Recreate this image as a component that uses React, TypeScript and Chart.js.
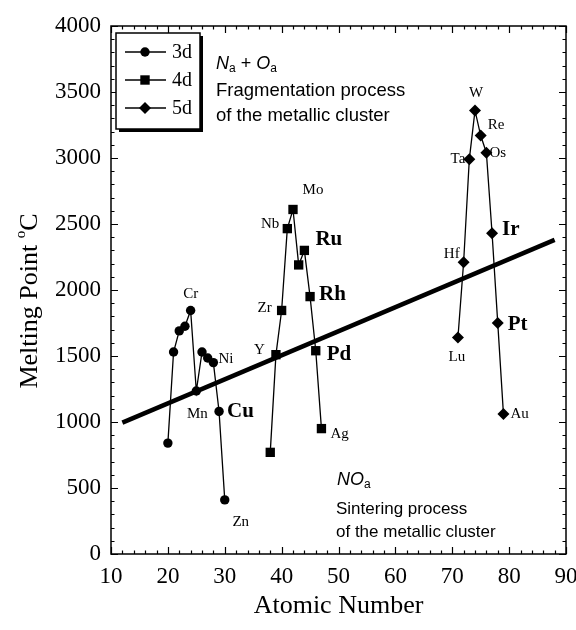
import { useEffect, useRef } from "react";
import { Chart, registerables } from "chart.js";

Chart.register(...registerables);

// ---- data ----
const z3d = [20, 21, 22, 23, 24, 25, 26, 27, 28, 29, 30];
const mp3d = [840, 1530, 1690, 1725, 1845, 1235, 1530, 1485, 1450, 1080, 410];
const el3d = ["Ca", "Sc", "Ti", "V", "Cr", "Mn", "Fe", "Co", "Ni", "Cu", "Zn"];

const z4d = [38, 39, 40, 41, 42, 43, 44, 45, 46, 47];
const mp4d = [770, 1510, 1845, 2465, 2610, 2190, 2300, 1950, 1540, 950];
const el4d = ["Sr", "Y", "Zr", "Nb", "Mo", "Tc", "Ru", "Rh", "Pd", "Ag"];

const z5d = [71, 72, 73, 74, 75, 76, 77, 78, 79];
const mp5d = [1640, 2210, 2990, 3360, 3170, 3040, 2430, 1750, 1060];
const el5d = ["Lu", "Hf", "Ta", "W", "Re", "Os", "Ir", "Pt", "Au"];

const trendX = [12, 88];
const trendY = [995, 2380];

const seriesNames = ["3d", "4d", "5d"];
const boldElements = ["Cu", "Ru", "Rh", "Pd", "Ir", "Pt"];

const xMin = 10, xMax = 90, xStep = 10, xMinor = 2;
const yMin = 0, yMax = 4000, yStep = 500, yMinor = 100;

const xTitle = "Atomic Number";
const yTitleMain = "Melting Point ";
const yTitleSup = "o";
const yTitleUnit = "C";

const topNote = ["Fragmentation process", "of the metallic cluster"];
const bottomNote = ["Sintering process", "of the metallic cluster"];

// label placement: [align, dx, dy]
const labelPlace: Record<string, [CanvasTextAlign, number, number]> = {
  Cr: ["center", 0, -16],
  Mn: ["center", 1, 23],
  Ni: ["left", 5, -4],
  Cu: ["left", 8, 0],
  Zn: ["center", 16, 22],
  Y: ["right", -11, -5],
  Zr: ["right", -10, -2],
  Nb: ["right", -8, -5],
  Mo: ["center", 20, -19],
  Ru: ["left", 11, -11],
  Rh: ["left", 9, -2],
  Pd: ["left", 11, 4],
  Ag: ["left", 9, 5],
  Lu: ["center", -1, 20],
  Hf: ["right", -4, -8],
  Ta: ["right", -4, 0],
  W: ["center", 1, -17],
  Re: ["left", 7, -10],
  Os: ["left", 3, 0],
  Ir: ["left", 10, -4],
  Pt: ["left", 10, 2],
  Au: ["left", 7, 0],
};

const SERIF = "'Liberation Serif', 'Times New Roman', serif";
const SANS = "'Liberation Sans', Arial, sans-serif";

function drawMarker(ctx: CanvasRenderingContext2D, kind: string, x: number, y: number) {
  ctx.beginPath();
  if (kind === "circle") {
    ctx.arc(x, y, 4.7, 0, Math.PI * 2);
  } else if (kind === "rect") {
    ctx.rect(x - 4.7, y - 4.7, 9.4, 9.4);
  } else {
    ctx.moveTo(x, y - 6);
    ctx.lineTo(x + 6, y);
    ctx.lineTo(x, y + 6);
    ctx.lineTo(x - 6, y);
    ctx.closePath();
  }
  ctx.fill();
}

const decoPlugin = {
  id: "deco",
  afterDatasetsDraw(chart: any) {
    const { ctx, chartArea: a, scales } = chart;
    const x = scales.x, y = scales.y;
    ctx.save();
    ctx.strokeStyle = "#000";
    ctx.fillStyle = "#000";

    // frame
    ctx.lineWidth = 1.5;
    ctx.strokeRect(a.left, a.top, a.right - a.left, a.bottom - a.top);

    // inward ticks
    ctx.lineWidth = 1.2;
    ctx.beginPath();
    for (let v = xMin; v <= xMax; v += xMinor) {
      const px = Math.round(x.getPixelForValue(v)) + 0.5;
      const L = v % xStep === 0 ? 7 : 3.5;
      ctx.moveTo(px, a.bottom);
      ctx.lineTo(px, a.bottom - L);
      ctx.moveTo(px, a.top);
      ctx.lineTo(px, a.top + L);
    }
    for (let v = yMin; v <= yMax; v += yMinor) {
      const py = Math.round(y.getPixelForValue(v)) + 0.5;
      const L = v % yStep === 0 ? 7 : 3.5;
      ctx.moveTo(a.left, py);
      ctx.lineTo(a.left + L, py);
      ctx.moveTo(a.right, py);
      ctx.lineTo(a.right - L, py);
    }
    ctx.stroke();

    // element labels
    const groups: [number[], number[], string[]][] = [
      [z3d, mp3d, el3d],
      [z4d, mp4d, el4d],
      [z5d, mp5d, el5d],
    ];
    ctx.textBaseline = "middle";
    for (const [zs, ms, els] of groups) {
      els.forEach((name, i) => {
        const p = labelPlace[name];
        if (!p) return;
        const bold = boldElements.includes(name);
        ctx.font = bold ? `bold 21px ${SERIF}` : `15px ${SERIF}`;
        ctx.textAlign = p[0];
        ctx.fillText(name, x.getPixelForValue(zs[i]) + p[1], y.getPixelForValue(ms[i]) + p[2]);
      });
    }

    // legend box
    const lx = a.left + 5, ly = a.top + 7, lw = 84, lh = 96;
    ctx.fillStyle = "#000";
    ctx.fillRect(lx + 3, ly + 3, lw, lh);
    ctx.fillStyle = "#fff";
    ctx.fillRect(lx, ly, lw, lh);
    ctx.lineWidth = 1.5;
    ctx.strokeRect(lx, ly, lw, lh);
    ctx.fillStyle = "#000";
    const kinds = ["circle", "rect", "diamond"];
    seriesNames.forEach((name, i) => {
      const cy = ly + 19 + i * 28;
      ctx.lineWidth = 1.3;
      ctx.beginPath();
      ctx.moveTo(lx + 9, cy);
      ctx.lineTo(lx + 50, cy);
      ctx.stroke();
      drawMarker(ctx, kinds[i], lx + 29, cy);
      ctx.font = `20px ${SERIF}`;
      ctx.textAlign = "left";
      ctx.textBaseline = "middle";
      ctx.fillText(name, lx + 56, cy + 1);
    });

    // "Na + Oa" note
    const drawSubLabel = (parts: [string, boolean][], x0: number, base: number) => {
      let cx = x0;
      ctx.textAlign = "left";
      ctx.textBaseline = "alphabetic";
      for (const [t, sub] of parts) {
        ctx.font = sub ? `12px ${SANS}` : (t.trim() === "+" ? `18px ${SANS}` : `italic 18px ${SANS}`);
        ctx.fillText(t, cx, sub ? base + 3 : base);
        cx += ctx.measureText(t).width;
      }
    };
    drawSubLabel([["N", false], ["a", true], [" + ", false], ["O", false], ["a", true]], a.left + 105, a.top + 43);
    ctx.font = `18.5px ${SANS}`;
    ctx.textBaseline = "alphabetic";
    ctx.fillText(topNote[0], a.left + 105, a.top + 70);
    ctx.fillText(topNote[1], a.left + 105, a.top + 95);

    drawSubLabel([["N", false], ["O", false], ["a", true]], a.left + 226, a.bottom - 69);
    ctx.font = `17px ${SANS}`;
    ctx.textBaseline = "alphabetic";
    ctx.fillText(bottomNote[0], a.left + 225, a.bottom - 40);
    ctx.fillText(bottomNote[1], a.left + 225, a.bottom - 17);

    // x title
    ctx.font = `26px ${SERIF}`;
    ctx.textAlign = "center";
    ctx.textBaseline = "middle";
    ctx.fillText(xTitle, (a.left + a.right) / 2, 606);

    // y title
    ctx.save();
    ctx.translate(28, 301);
    ctx.rotate(-Math.PI / 2);
    ctx.font = `26px ${SERIF}`;
    const w1 = ctx.measureText(yTitleMain).width;
    const w3 = ctx.measureText(yTitleUnit).width;
    ctx.font = `15px ${SERIF}`;
    const w2 = ctx.measureText(yTitleSup).width;
    let sx = -(w1 + w2 + w3) / 2;
    ctx.textAlign = "left";
    ctx.textBaseline = "alphabetic";
    ctx.font = `26px ${SERIF}`;
    ctx.fillText(yTitleMain, sx, 9);
    sx += w1;
    ctx.font = `15px ${SERIF}`;
    ctx.fillText(yTitleSup, sx, -3);
    sx += w2;
    ctx.font = `26px ${SERIF}`;
    ctx.fillText(yTitleUnit, sx, 9);
    ctx.restore();

    ctx.restore();
  },
};

export default function App() {
  const ref = useRef<HTMLCanvasElement | null>(null);
  useEffect(() => {
    if (!ref.current) return;
    const mk = (zs: number[], ms: number[]) => zs.map((z, i) => ({ x: z, y: ms[i] }));
    const common = {
      showLine: true,
      borderColor: "#000",
      backgroundColor: "#000",
      pointBackgroundColor: "#000",
      pointBorderColor: "#000",
      borderWidth: 1.3,
      tension: 0,
      order: 0,
    };
    const chart = new Chart(ref.current, {
      type: "scatter",
      data: {
        datasets: [
          { ...common, label: seriesNames[0], data: mk(z3d, mp3d), pointStyle: "circle", pointRadius: 4.7, pointBorderWidth: 0 },
          { ...common, label: seriesNames[1], data: mk(z4d, mp4d), pointStyle: "rect", pointRadius: 6.6, pointBorderWidth: 0 },
          { ...common, label: seriesNames[2], data: mk(z5d, mp5d), pointStyle: "rectRot", pointRadius: 6, pointBorderWidth: 0 },
          {
            label: "trend",
            data: mk(trendX, trendY),
            showLine: true,
            borderColor: "#000",
            borderWidth: 4.5,
            pointRadius: 0,
            order: 1,
          } as any,
        ],
      },
      options: {
        responsive: false,
        animation: false,
        layout: { padding: { top: 26, right: 10, left: 0, bottom: 0 } },
        plugins: { legend: { display: false }, tooltip: { enabled: false }, title: { display: false } },
        scales: {
          x: {
            type: "linear",
            min: xMin,
            max: xMax,
            grid: { display: false, drawTicks: false },
            border: { display: false },
            ticks: {
              stepSize: xStep,
              autoSkip: false,
              maxRotation: 0,
              padding: 9,
              color: "#000",
              font: { family: SERIF, size: 23 },
              callback: (v: any) => String(v),
            },
            afterFit: (s: any) => {
              s.height = 76;
              s.paddingLeft = 0;
              s.paddingRight = 0;
            },
          },
          y: {
            type: "linear",
            min: yMin,
            max: yMax,
            grid: { display: false, drawTicks: false },
            border: { display: false },
            ticks: {
              stepSize: yStep,
              autoSkip: false,
              padding: 10,
              color: "#000",
              font: { family: SERIF, size: 23 },
              callback: (v: any) => String(v),
            },
            afterFit: (s: any) => {
              s.width = 111;
              s.paddingTop = 0;
              s.paddingBottom = 0;
            },
          },
        },
      },
      plugins: [decoPlugin],
    } as any);
    return () => chart.destroy();
  }, []);
  return (
    <div style={{ position: "absolute", left: 0, top: 0, width: 576, height: 630, background: "#fff" }}>
      <canvas ref={ref} width={576} height={630} style={{ display: "block" }} />
    </div>
  );
}
